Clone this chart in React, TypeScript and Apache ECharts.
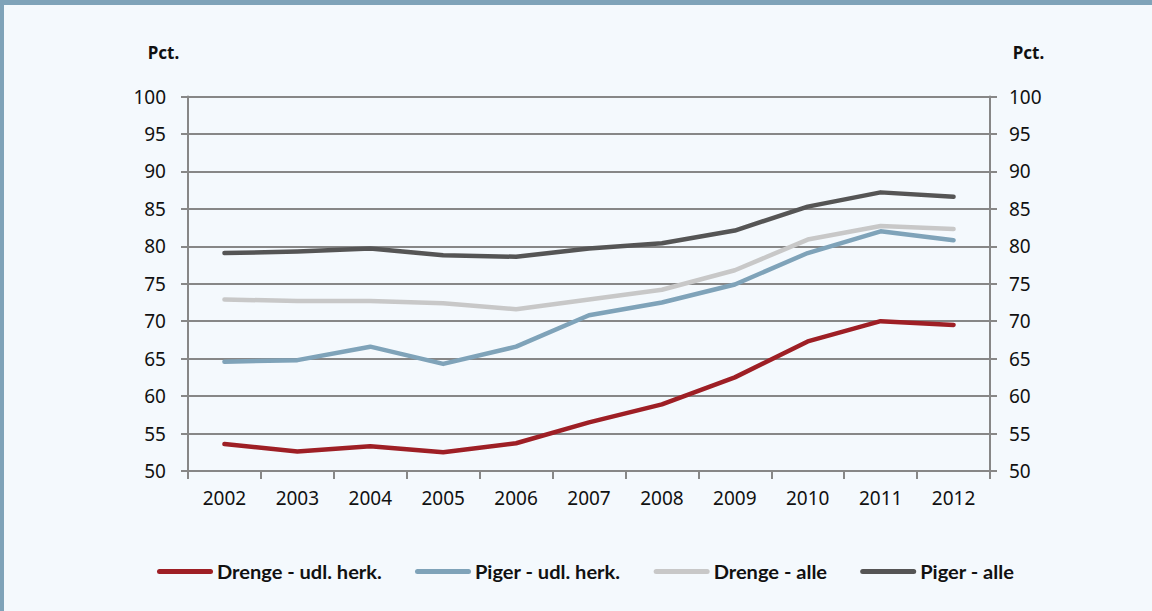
import React, { useEffect, useRef } from "react";
import * as echarts from "echarts";

const years = ["2002", "2003", "2004", "2005", "2006", "2007", "2008", "2009", "2010", "2011", "2012"];
const drengeUdl = [53.6, 52.6, 53.3, 52.5, 53.7, 56.5, 58.9, 62.5, 67.3, 70.0, 69.5];
const pigerUdl = [64.6, 64.8, 66.6, 64.3, 66.6, 70.8, 72.5, 74.9, 79.1, 82.0, 80.8];
const drengeAlle = [72.9, 72.7, 72.7, 72.4, 71.6, 72.9, 74.2, 76.8, 80.9, 82.7, 82.3];
const pigerAlle = [79.1, 79.3, 79.7, 78.8, 78.6, 79.7, 80.4, 82.1, 85.3, 87.2, 86.6];
const seriesNames = ["Drenge - udl. herk.", "Piger - udl. herk.", "Drenge - alle", "Piger - alle"];
const seriesColors = ["#9e1f25", "#7fa3b9", "#c8c8c8", "#555555"];
const unitLabel = "Pct.";

const AXIS = "#878787";
const FONT = "'Noto Sans', sans-serif";
const LEGEND_FONT = "bold 19px Lato, sans-serif";

function buildLegend() {
  const ctx = document.createElement("canvas").getContext("2d");
  const widths = seriesNames.map((n) => {
    if (!ctx) return n.length * 9;
    ctx.font = LEGEND_FONT;
    return ctx.measureText(n).width;
  });
  const s = 165 / widths[0];
  const els: any[] = [];
  let x = 157;
  const y = 571.5;
  seriesNames.forEach((name, i) => {
    els.push({
      type: "line",
      shape: { x1: x + 2.5, y1: y, x2: x + 53.5, y2: y },
      style: { stroke: seriesColors[i], lineWidth: 5, lineCap: "round" },
    });
    x += 60;
    els.push({
      type: "text",
      x,
      y,
      scaleX: s,
      style: { text: name, font: LEGEND_FONT, fill: "#111", textAlign: "left", textVerticalAlign: "middle" },
    });
    x += widths[i] * s + 33;
  });
  return els;
}

export default function App() {
  const ref = useRef<HTMLDivElement>(null);
  useEffect(() => {
    if (!ref.current) return;
    const chart = echarts.init(ref.current, null, { renderer: "svg" });
    const data = [drengeUdl, pigerUdl, drengeAlle, pigerAlle];
    const yAxisBase = (pos: "left" | "right") => ({
      type: "value" as const,
      position: pos,
      min: 50,
      max: 100,
      interval: 5,
      axisLine: { show: true, lineStyle: { color: AXIS, width: 2 } },
      axisTick: { show: true, length: 7, lineStyle: { color: AXIS, width: 2 } },
      splitLine: { show: pos === "left", lineStyle: { color: AXIS, width: 2 } },
      axisLabel: { color: "#111", fontSize: 19, fontFamily: FONT, margin: pos === "left" ? 22 : 19 },
    });
    chart.setOption({
      animation: false,
      backgroundColor: "#f4f9fd",
      grid: { left: 188, right: 162, top: 96.5, bottom: 140, containLabel: false },
      xAxis: {
        type: "category",
        data: years,
        boundaryGap: true,
        axisLine: { show: true, lineStyle: { color: AXIS, width: 2 } },
        axisTick: { show: true, length: 8, alignWithLabel: false, lineStyle: { color: AXIS, width: 2 } },
        axisLabel: { color: "#111", fontSize: 19, fontFamily: FONT, margin: 17 },
        splitLine: { show: false },
      },
      yAxis: [yAxisBase("left"), { ...yAxisBase("right") }],
      graphic: [
        { type: "rect", shape: { x: 0, y: 0, width: 1152, height: 5 }, style: { fill: "#7fa3b9" } },
        { type: "rect", shape: { x: 0, y: 0, width: 4, height: 611 }, style: { fill: "#7fa3b9" } },
        {
          type: "text",
          x: 163.5,
          y: 52,
          style: { text: unitLabel, font: `bold 17px ${FONT}`, fill: "#111", textAlign: "center", textVerticalAlign: "middle" },
        },
        {
          type: "text",
          x: 1028.5,
          y: 52,
          style: { text: unitLabel, font: `bold 17px ${FONT}`, fill: "#111", textAlign: "center", textVerticalAlign: "middle" },
        },
        ...buildLegend(),
      ],
      series: seriesNames.map((name, i) => ({
        name,
        type: "line",
        yAxisIndex: 0,
        data: data[i],
        showSymbol: false,
        symbol: "none",
        color: seriesColors[i],
        lineStyle: { color: seriesColors[i], width: 4.5, cap: "round", join: "round" },
        z: 2 + i,
      })),
    });
    return () => chart.dispose();
  }, []);
  return (
    <div
      ref={ref}
      style={{ position: "absolute", left: 0, top: 0, width: 1152, height: 611 }}
    />
  );
}
